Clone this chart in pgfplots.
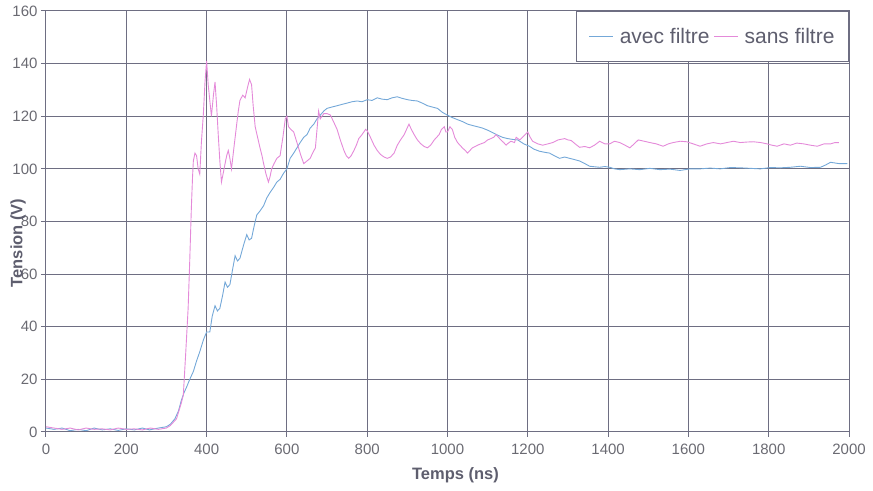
\documentclass[border=0pt]{standalone}
\usepackage{fontspec}
\setmainfont{Liberation Sans}
\usepackage{pgfplots}
\pgfplotsset{compat=1.18}
\definecolor{gridc}{HTML}{6E6E82}
\definecolor{tickc}{HTML}{6A6A72}
\definecolor{labc}{HTML}{5E5E6E}
\definecolor{avec}{HTML}{74A8D8}
\definecolor{sans}{HTML}{E48AD9}

\begin{document}
\begin{tikzpicture}
\begin{axis}[
  scale only axis,
  width=803pt, height=421pt,
  xmin=0, xmax=2000, ymin=0, ymax=160,
  xtick={0,200,...,2000}, ytick={0,20,...,160},
  grid=major,
  grid style={gridc, line width=1pt},
  axis line style={gridc, line width=1pt},
  tick style={gridc, line width=1pt},
  tick align=outside, major tick length=5pt,
  xtick pos=bottom, ytick pos=left,
  /pgf/number format/assume math mode=true,
  /pgf/number format/set thousands separator={},
  tick label style={font=\fontsize{15}{18}\selectfont, text=tickc},
  xticklabel style={yshift=-3pt},
  xlabel={\textbf{Temps (ns)}},
  ylabel={\textbf{Tension (V)}},
  label style={font=\fontsize{16.5}{19}\selectfont, text=labc},
  xlabel style={at={(axis description cs:0.51,0)}, anchor=center, yshift=-43pt},
  ylabel style={at={(axis description cs:0,0.449)}, anchor=center, yshift=28pt},
  legend columns=2,
  legend style={at={(1,1)}, anchor=north east, draw=gridc, line width=1pt, fill=white,
    font=\fontsize{21}{25}\selectfont, text=labc, inner xsep=12pt, inner ysep=14.5pt,
    /tikz/every odd column/.append style={column sep=4pt},
    /tikz/every even column/.append style={column sep=2pt}},
  legend image code/.code={\draw[#1, line width=1pt] (0pt,0pt) -- (24pt,0pt);},
]
\addplot[avec, line width=0.9pt] coordinates {
(0,1.5) (20,1) (40,1.5) (60,0.5) (80,1) (100,0.5) (120,1.5) (140,0.8) (160,1.2) (180,0.6)
(200,1.2) (220,0.8) (240,1.5) (258,0.8) (280,1.5) (300,2) (310,3) (321,5) (330,8) (337,12)
(344,15) (350,17) (358,20) (367,23) (375,27) (383,30.5) (392,35) (400,38) (408,38) (414,44)
(421,48) (427,46) (433,47) (440,52) (446,57) (452,55) (458,56) (465,62) (471,67) (477,65)
(483,66) (492,71) (500,75) (506,73) (512,73.6) (518,78) (525,82.5) (533,84) (542,86) (550,89)
(558,91) (567,93) (575,95) (583,96) (592,98.4) (600,100) (608,104) (617,106) (625,108) (633,110)
(642,112) (650,113) (658,115.5) (667,117) (675,119) (683,120.4) (692,122) (700,123) (712,123.5)
(725,124) (737,124.5) (750,125) (762,125.5) (775,125.8) (787,125.5) (800,126.3) (812,126)
(825,127) (837,126.5) (850,126.3) (862,127) (875,127.4) (887,126.8) (900,126.3) (912,126)
(925,125.8) (937,125) (950,124) (962,123.5) (975,123) (987,121.5) (1000,120.4) (1012,119.5)
(1025,118.7) (1037,118) (1050,117) (1062,116.5) (1075,116) (1087,115.5) (1100,114.7)
(1112,113.8) (1125,112.8) (1137,112) (1150,111.5) (1162,111.2) (1175,111) (1190,109.5)
(1204,108.6) (1215,107.5) (1229,106.7) (1242,106.3) (1254,106) (1266,105) (1279,104)
(1292,104.5) (1304,104) (1317,103.5) (1329,103) (1342,102) (1354,101) (1366,100.8)
(1379,100.6) (1392,100.9) (1404,100.6) (1416,100) (1429,99.7) (1454,100) (1479,99.7)
(1504,100.2) (1529,99.7) (1554,99.9) (1579,99.4) (1604,100) (1629,100) (1654,100.3)
(1679,100) (1704,100.5) (1729,100.4) (1754,100.2) (1779,100) (1804,100.5) (1829,100.4)
(1854,100.6) (1879,101) (1904,100.5) (1929,100.6) (1942,101.5) (1954,102.5) (1975,102) (1996,102)
};
\addplot[sans, line width=0.9pt] coordinates {
(0,2) (20,1.5) (40,1) (60,1.5) (80,0.8) (100,1.5) (120,1) (140,1.2) (160,0.8) (180,1.5)
(200,1) (220,1.2) (240,0.8) (260,1.5) (280,1) (300,1.5) (310,2.5) (325,5) (337,11) (342,14)
(348,30) (354,47) (358,65) (362,85) (365,97) (367,103) (371,106) (375,105) (379,100) (383,98)
(387,110) (392,121) (396,133) (400,141) (404,132) (408,126) (412,120) (417,128) (421,133)
(425,124) (429,113) (433,103) (437,95) (441,98) (446,102) (450,105) (454,107) (458,104)
(462,100) (468,108) (475,117) (479,122) (483,126) (490,128) (496,127) (502,131) (507,134)
(512,132) (516,124) (521,116) (527,112) (533,108) (538,105) (542,102) (548,98) (554,95)
(558,97) (562,100) (568,102) (575,104) (583,105) (590,112) (596,119) (600,120) (604,116)
(610,115) (617,114) (623,111) (629,108) (635,105) (642,102) (650,103) (658,104) (664,106)
(671,108) (675,115) (679,122) (683,119) (692,121) (700,121) (708,120.5) (716,118) (725,115)
(733,111) (742,107) (748,105) (754,104) (760,105) (767,107) (773,109) (779,111.5) (787,113)
(796,115) (800,114.5) (808,112) (817,109) (825,107) (833,105.5) (842,104.5) (850,104)
(858,104.5) (867,106) (875,109) (883,111) (892,113) (898,115) (904,117) (910,115) (917,113)
(925,111) (933,109.6) (942,108.5) (950,108) (958,109) (967,111) (973,112) (979,113) (985,115)
(992,116) (996,114) (1000,114) (1006,116) (1012,115) (1018,112) (1025,110) (1031,109)
(1037,108) (1044,107) (1050,106) (1056,107) (1062,108) (1069,108.5) (1075,109) (1083,109.5)
(1092,110) (1100,111) (1108,111.5) (1115,112) (1121,113) (1127,112) (1133,111) (1140,110)
(1146,109) (1150,109.6) (1158,110.5) (1167,110) (1171,112) (1180,111) (1190,112.5) (1200,114)
(1206,112) (1212,110.5) (1225,109.5) (1237,109) (1250,109.5) (1262,110) (1275,111) (1292,111.5)
(1300,111) (1308,110.8) (1318,109.5) (1329,108.2) (1342,108.5) (1354,108) (1366,109)
(1379,110.5) (1392,109.5) (1404,109.5) (1416,110.5) (1429,110) (1442,109) (1454,108)
(1465,109.5) (1475,111) (1490,110.5) (1504,110) (1520,109.5) (1537,108.6) (1550,109.5)
(1562,110) (1580,110.5) (1596,110.3) (1612,109.5) (1629,108.6) (1646,109.5) (1662,110)
(1680,109.5) (1696,110) (1712,110.5) (1729,110) (1746,110.2) (1762,110.3) (1780,110)
(1796,109.5) (1808,109) (1821,108.6) (1838,109.5) (1854,109) (1870,109.8) (1887,109.5)
(1904,109) (1921,108.6) (1938,109.5) (1954,109.5) (1965,110) (1975,110)
};
\legend{avec filtre, sans filtre}
\end{axis}
\pgfresetboundingbox
\path[use as bounding box] ([shift={(-46pt,-59pt)}]current axis.south west) rectangle ([shift={(24pt,11pt)}]current axis.north east);
\end{tikzpicture}
\end{document}
